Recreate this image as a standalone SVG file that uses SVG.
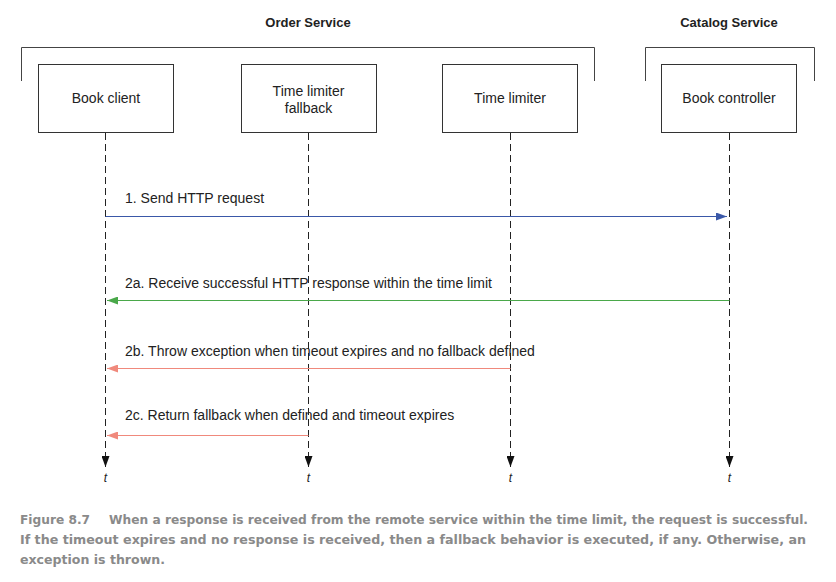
<svg xmlns="http://www.w3.org/2000/svg" width="836" height="582" viewBox="0 0 836 582">
<style>
.box{fill:#fff;stroke:#333;stroke-width:1}
.lbl{font-family:"Liberation Sans",Arial,sans-serif;font-size:14px;fill:#222}
.hdr{font-family:"Liberation Sans",Arial,sans-serif;font-size:13px;font-weight:bold;fill:#222}
.life{stroke:#222;stroke-width:1;stroke-dasharray:7,4;fill:none}
.brk{fill:none;stroke:#444;stroke-width:1}
.t{font-family:"Liberation Sans",Arial,sans-serif;font-size:12px;font-style:italic;fill:#222}
.cap{font-family:"DejaVu Sans Condensed","Liberation Sans",sans-serif;font-size:13px;font-weight:bold;fill:#8a8a8a}
</style>
<defs>
<marker id="down" markerWidth="12" markerHeight="8" refX="11" refY="4" orient="auto" markerUnits="userSpaceOnUse" viewBox="0 0 12 8"><path d="M0,0 L11,4 L0,8 Z" fill="#111"/></marker>
<marker id="ab" markerWidth="12" markerHeight="8" refX="11" refY="4" orient="auto" markerUnits="userSpaceOnUse" viewBox="0 0 12 8"><path d="M0,0 L11,4 L0,8 Z" fill="#3a58a8"/></marker>
<marker id="ag" markerWidth="12" markerHeight="8" refX="11" refY="4" orient="auto" markerUnits="userSpaceOnUse" viewBox="0 0 12 8"><path d="M0,0 L11,4 L0,8 Z" fill="#4aa84a"/></marker>
<marker id="ar" markerWidth="12" markerHeight="8" refX="11" refY="4" orient="auto" markerUnits="userSpaceOnUse" viewBox="0 0 12 8"><path d="M0,0 L11,4 L0,8 Z" fill="#f0897c"/></marker>
</defs>
<rect width="836" height="582" fill="#fff"/>
<g id="order-service">
<text class="hdr" x="308" y="27" text-anchor="middle">Order Service</text>
<path class="brk" d="M21.5,81 V47.5 H594.5 V81"/>
</g>
<g id="catalog-service">
<text class="hdr" x="729" y="27" text-anchor="middle">Catalog Service</text>
<path class="brk" d="M645.5,81 V47.5 H814.5 V81"/>
</g>
<g id="connectors">
<line class="life" x1="105.5" y1="133" x2="105.5" y2="467" marker-end="url(#down)"/>
<line class="life" x1="308.5" y1="133" x2="308.5" y2="467" marker-end="url(#down)"/>
<line class="life" x1="510.5" y1="133" x2="510.5" y2="467" marker-end="url(#down)"/>
<line class="life" x1="729.5" y1="133" x2="729.5" y2="467" marker-end="url(#down)"/>
<line x1="105.5" y1="216.5" x2="727" y2="216.5" stroke="#3a58a8" stroke-width="1.2" marker-end="url(#ab)"/>
<text class="lbl" x="125" y="203">1. Send HTTP request</text>
<line x1="729.5" y1="300.5" x2="107" y2="300.5" stroke="#4aa84a" stroke-width="1.2" marker-end="url(#ag)"/>
<text class="lbl" x="125" y="288">2a. Receive successful HTTP response within the time limit</text>
<line x1="510.5" y1="368.5" x2="107" y2="368.5" stroke="#f0897c" stroke-width="1.2" marker-end="url(#ar)"/>
<text class="lbl" x="125" y="356">2b. Throw exception when timeout expires and no fallback defined</text>
<line x1="308.5" y1="435.5" x2="107" y2="435.5" stroke="#f0897c" stroke-width="1.2" marker-end="url(#ar)"/>
<text class="lbl" x="125" y="420">2c. Return fallback when defined and timeout expires</text>
<text class="t" x="105.5" y="482" text-anchor="middle">t</text>
<text class="t" x="308.5" y="482" text-anchor="middle">t</text>
<text class="t" x="510.5" y="482" text-anchor="middle">t</text>
<text class="t" x="729.5" y="482" text-anchor="middle">t</text>
</g>
<g id="book-client">
<rect class="box" x="38.5" y="64.5" width="135" height="68"/>
<text class="lbl" x="106" y="103" text-anchor="middle">Book client</text>
</g>
<g id="time-limiter-fallback">
<rect class="box" x="241.5" y="64.5" width="135" height="68"/>
<text class="lbl" x="308.5" y="96" text-anchor="middle">Time limiter</text>
<text class="lbl" x="308.5" y="113" text-anchor="middle">fallback</text>
</g>
<g id="time-limiter">
<rect class="box" x="442.5" y="64.5" width="135" height="68"/>
<text class="lbl" x="510" y="103" text-anchor="middle">Time limiter</text>
</g>
<g id="book-controller">
<rect class="box" x="661.5" y="64.5" width="135" height="68"/>
<text class="lbl" x="729" y="103" text-anchor="middle">Book controller</text>
</g>
<g id="caption">
<text class="cap" x="20" y="524" textLength="70" lengthAdjust="spacingAndGlyphs">Figure 8.7</text>
<text class="cap" x="109" y="524" textLength="699" lengthAdjust="spacingAndGlyphs">When a response is received from the remote service within the time limit, the request is successful.</text>
<text class="cap" x="20" y="544" textLength="786" lengthAdjust="spacingAndGlyphs">If the timeout expires and no response is received, then a fallback behavior is executed, if any. Otherwise, an</text>
<text class="cap" x="20" y="564" textLength="145" lengthAdjust="spacingAndGlyphs">exception is thrown.</text>
</g>
</svg>
